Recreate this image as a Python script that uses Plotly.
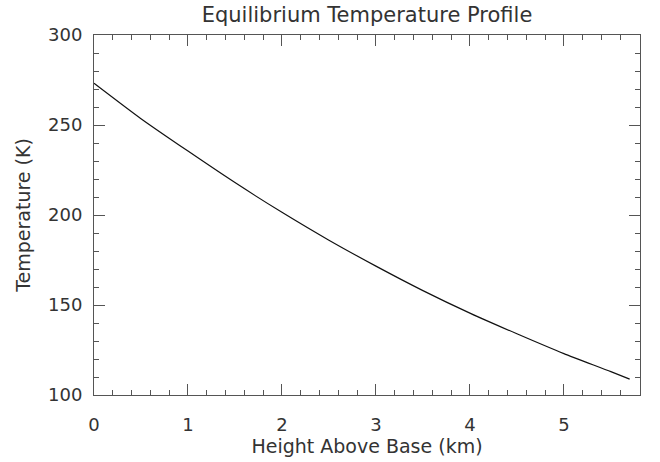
import plotly.graph_objects as go

height_km = [0.0, 0.5, 1.0, 1.5, 2.0, 2.5, 3.0, 3.5, 4.0, 4.5, 5.0, 5.5, 5.7]
temperature_k = [273.2, 253.5, 235.5, 218.0, 201.5, 186.0, 171.6, 158.0, 145.5, 134.0, 123.0, 113.0, 108.8]

x_ticks = [0, 1, 2, 3, 4, 5]
y_ticks = [100, 150, 200, 250, 300]

FONT = "DejaVu Sans"
TXT = "#333333"

fig = go.Figure()
fig.add_trace(go.Scatter(
    x=height_km, y=temperature_k, mode="lines",
    line=dict(color="#111111", width=1.2, shape="spline", smoothing=0.6),
    showlegend=False, hoverinfo="skip",
))

axis_common = dict(
    showgrid=False, zeroline=False, showline=True, linecolor="#555555", linewidth=1,
    ticks="inside", ticklen=11, tickwidth=1, tickcolor="#555555", mirror="allticks",
    tickfont=dict(family=FONT, size=18, color=TXT), automargin=False,
)

fig.update_xaxes(
    range=[0, 5.81], tickvals=x_ticks, ticktext=[str(v) for v in x_ticks],
    ticklabelstandoff=13,
    minor=dict(dtick=0.2, ticks="inside", ticklen=5, tickcolor="#555555", tickwidth=1, showgrid=False),
    title=dict(text="Height Above Base (km)", font=dict(family=FONT, size=19, color=TXT), standoff=4),
    **axis_common,
)
fig.update_yaxes(
    range=[100, 300], tickvals=y_ticks, ticktext=[str(v) for v in y_ticks],
    ticklabelstandoff=7,
    minor=dict(dtick=10, ticks="inside", ticklen=5, tickcolor="#555555", tickwidth=1, showgrid=False),
    title=dict(text="Temperature (K)", font=dict(family=FONT, size=19, color=TXT), standoff=12),
    **axis_common,
)

fig.update_layout(
    width=660, height=462,
    margin=dict(l=94, r=20, t=35, b=67),
    paper_bgcolor="white", plot_bgcolor="white",
    title=dict(text="Equilibrium Temperature Profile", x=(94 + 640) / 2 / 660, xanchor="center",
               y=1 - 15 / 462, yanchor="middle",
               font=dict(family=FONT, size=21, color=TXT)),
)

fig.write_html("out.html")
